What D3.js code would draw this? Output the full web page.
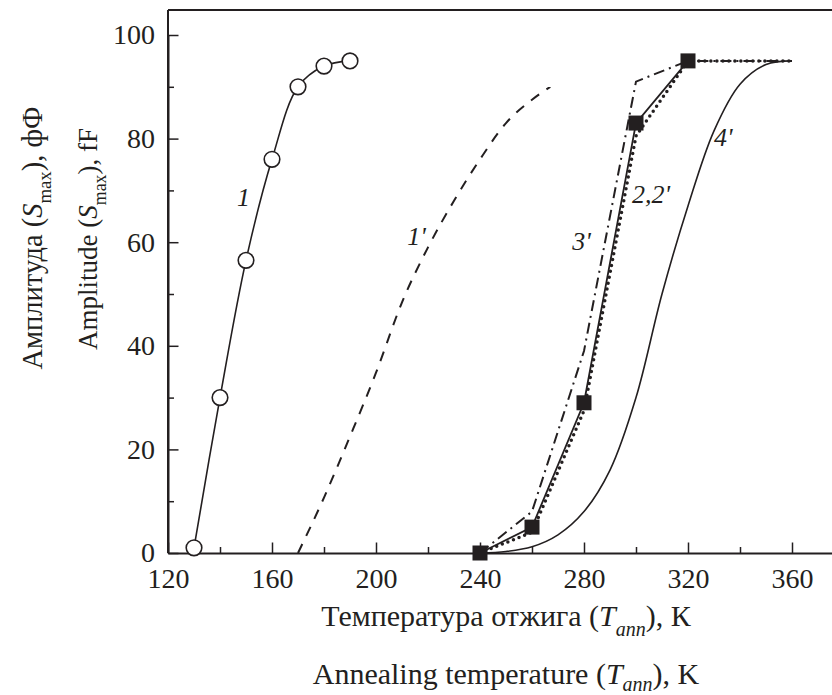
<!DOCTYPE html>
<html><head><meta charset="utf-8">
<script src="https://cdn.jsdelivr.net/npm/d3@7"></script>
</head>
<body style="margin:0">
<svg id="chart" width="832" height="695"></svg>
<script>
// ---- data ----
const temps1 = [130, 140, 150, 160, 170, 180, 190];
const amp1   = [1, 30, 56.5, 76, 90, 94, 95];

const temps1p = [170, 180, 190, 200, 210, 220, 230, 240, 250, 260, 267];
const amp1p   = [0, 10.7, 22.5, 34.8, 48.4, 59, 68, 76, 83, 87.5, 90];

const temps2 = [240, 260, 280, 300, 320];
const amp2   = [0, 5, 29, 83, 95];

const temps2p = [240, 260, 280, 300, 320, 340, 360];
const amp2p   = [0, 4, 27.5, 80.5, 95, 95, 95];

const temps3p = [240, 260, 280, 300, 320, 340, 360];
const amp3p   = [0, 8, 39, 91, 95, 95, 95];

const temps4p = [240, 250, 260, 270, 280, 290, 300, 310, 320, 330, 340, 350, 360];
const amp4p   = [0, 0.3, 1.2, 3.5, 8, 16, 30, 50, 67, 81.5, 90.5, 94.3, 95];

const xTicks = [120, 160, 200, 240, 280, 320, 360];
const xMinor = [140, 180, 220, 260, 300, 340];
const yTicks = [0, 20, 40, 60, 80, 100];
const yMinor = [10, 30, 50, 70, 90];

const curveLabels = [
  {text: "1",    t: 146.5, a: 67},
  {text: "1'",   t: 212, a: 59.5},
  {text: "2,2'", t: 298.5, a: 67.5},
  {text: "3'",   t: 275.5, a: 58.5},
  {text: "4'",   t: 330, a: 78.5}
];

// ---- drawing ----
const FF = '"Liberation Serif", "Times New Roman", Tinos';
const svg = d3.select("#chart");
const x = d3.scaleLinear().domain([120, 380]).range([168, 844]);
const y = d3.scaleLinear().domain([0, 100]).range([553, 35]);
const ink = "#231f20";

svg.append("line").attr("x1", x(120)).attr("x2", x(380)).attr("y1", 10).attr("y2", 10)
  .attr("stroke", ink).attr("stroke-width", 2);

svg.append("g").attr("transform", `translate(0,${y(0)})`)
  .call(d3.axisBottom(x).tickValues(xMinor).tickSize(-6).tickFormat(""))
  .call(g => g.select(".domain").remove())
  .selectAll("line").attr("stroke", ink).attr("stroke-width", 1.5);
svg.append("g").attr("transform", `translate(${x(120)},0)`)
  .call(d3.axisLeft(y).tickValues(yMinor).tickSize(-6).tickFormat(""))
  .call(g => g.select(".domain").remove())
  .selectAll("line").attr("stroke", ink).attr("stroke-width", 1.5);

const xAxis = svg.append("g").attr("transform", `translate(0,${y(0)})`)
  .call(d3.axisBottom(x).tickValues(xTicks).tickSize(-10.5).tickSizeOuter(0).tickPadding(15));
const yAxis = svg.append("g").attr("transform", `translate(${x(120)},0)`)
  .call(d3.axisLeft(y).tickValues(yTicks).tickSize(-10.5).tickSizeOuter(0).tickPadding(13));
[xAxis, yAxis].forEach(g => {
  g.attr("font-family", null).attr("font-size", null);
  g.select(".domain").attr("stroke", ink).attr("stroke-width", 2);
  g.selectAll(".tick line").attr("stroke", ink).attr("stroke-width", 1.5);
  g.selectAll(".tick text").attr("fill", ink).attr("font-family", FF).attr("font-size", 28);
});
svg.append("line").attr("x1", x(120)).attr("x2", x(120)).attr("y1", 10).attr("y2", y(0))
  .attr("stroke", ink).attr("stroke-width", 2);

function pts(ts, as) { return ts.map((t, i) => [t, as[i]]); }
const lineSmooth = d3.line().x(d => x(d[0])).y(d => y(d[1])).curve(d3.curveMonotoneX);
const lineCR = d3.line().x(d => x(d[0])).y(d => y(d[1])).curve(d3.curveCatmullRom.alpha(0.5));
const lineLin = d3.line().x(d => x(d[0])).y(d => y(d[1]));

svg.append("path").attr("d", lineCR(pts(temps4p, amp4p)))
  .attr("fill", "none").attr("stroke", ink).attr("stroke-width", 1.6);
svg.append("path").attr("d", lineSmooth(pts(temps1p, amp1p)))
  .attr("fill", "none").attr("stroke", ink).attr("stroke-width", 2).attr("stroke-dasharray", "10,9");
svg.append("path").attr("d", lineLin(pts(temps3p, amp3p)))
  .attr("fill", "none").attr("stroke", ink).attr("stroke-width", 2).attr("stroke-dasharray", "11,5,2,5");
svg.append("path").attr("d", lineLin(pts(temps2p, amp2p)))
  .attr("fill", "none").attr("stroke", ink).attr("stroke-width", 3.5)
  .attr("stroke-linecap", "round").attr("stroke-dasharray", "0,6");
svg.append("path").attr("d", lineLin(pts(temps2, amp2)))
  .attr("fill", "none").attr("stroke", ink).attr("stroke-width", 1.8);
svg.append("g").selectAll("rect").data(pts(temps2, amp2)).join("rect")
  .attr("x", d => x(d[0]) - 7.5).attr("y", d => y(d[1]) - 7.5)
  .attr("width", 15).attr("height", 15).attr("fill", ink);
svg.append("path").attr("d", lineCR(pts(temps1, amp1)))
  .attr("fill", "none").attr("stroke", ink).attr("stroke-width", 1.6);
svg.append("g").selectAll("circle").data(pts(temps1, amp1)).join("circle")
  .attr("cx", d => x(d[0])).attr("cy", d => y(d[1])).attr("r", 7.8)
  .attr("fill", "#fff").attr("stroke", ink).attr("stroke-width", 1.6);

svg.selectAll("text.clabel").data(curveLabels).join("text").attr("class", "clabel")
  .attr("x", d => x(d.t)).attr("y", d => y(d.a)).attr("fill", ink)
  .attr("font-family", FF).attr("font-size", 26).attr("font-style", "italic").text(d => d.text);

function xTitle(yPos, pre, post, sub) {
  const t = svg.append("text").attr("x", 506).attr("y", yPos).attr("text-anchor", "middle")
    .attr("font-size", 30).attr("font-family", FF).attr("fill", ink);
  t.append("tspan").text(pre);
  t.append("tspan").attr("font-style", "italic").text("T");
  t.append("tspan").attr("font-style", "italic").attr("font-size", 20).attr("dy", sub).text("ann");
  t.append("tspan").attr("dy", -sub).text(post);
}
xTitle(626, "Температура отжига (", "), К", 10);
xTitle(684, "Annealing temperature (", "), K", 7);

function yTitle(xPos, cy, fs, pre, post) {
  const t = svg.append("text").attr("transform", `translate(${xPos},${cy}) rotate(-90)`)
    .attr("text-anchor", "middle").attr("font-size", fs).attr("font-family", FF).attr("fill", ink);
  t.append("tspan").text(pre);
  t.append("tspan").attr("font-style", "italic").text("S");
  t.append("tspan").attr("font-size", fs * 0.66).attr("dy", 9).text("max");
  t.append("tspan").attr("dy", -9).text(post);
}
yTitle(42, 238, 28.5, "Амплитуда (", "), фФ");
yTitle(97, 239, 27, "Amplitude (", "), fF");
</script>
</body></html>
